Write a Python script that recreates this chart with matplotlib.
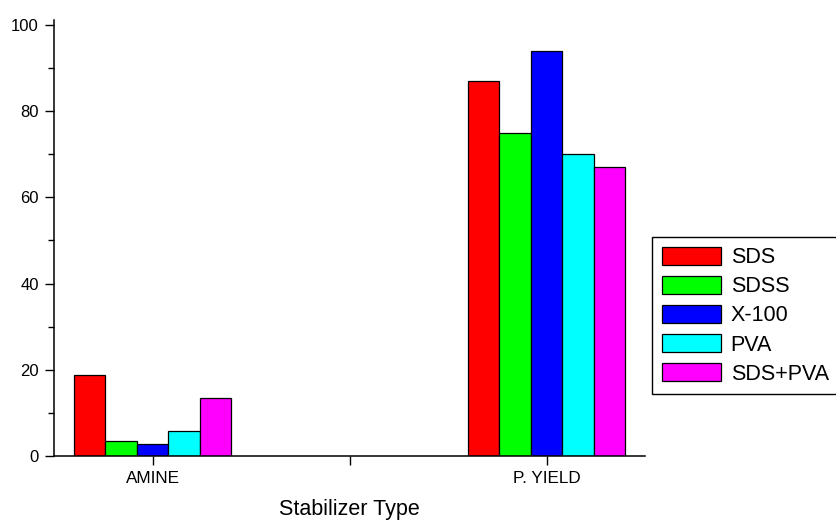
import matplotlib
matplotlib.use("Agg")
import matplotlib.pyplot as plt
import numpy as np

plt.rcParams["font.family"] = ["Liberation Sans", "DejaVu Sans"]

CATEGORIES = ["AMINE", "P. YIELD"]
SERIES = ["SDS", "SDSS", "X-100", "PVA", "SDS+PVA"]
COLORS = ["#ff0000", "#00ff00", "#0000ff", "#00ffff", "#ff00ff"]
VALUES = {
    "SDS": [18.7, 87.0],
    "SDSS": [3.5, 75.0],
    "X-100": [2.7, 94.0],
    "PVA": [5.7, 70.0],
    "SDS+PVA": [13.5, 67.0],
}

W, H = 836, 523
fig = plt.figure(figsize=(W / 100, H / 100), dpi=100)
ax = fig.add_axes([54 / W, 1 - 456 / H, (645 - 54) / W, 436 / H])

x = np.arange(1, len(CATEGORIES) + 1)
bar_w = 0.08
offsets = (np.arange(len(SERIES)) - (len(SERIES) - 1) / 2) * bar_w
for i, name in enumerate(SERIES):
    ax.bar(x + offsets[i], VALUES[name], width=bar_w, color=COLORS[i],
           edgecolor="black", linewidth=0.9, label=name)

ax.set_xlim(0.75, 2.25)
ax.set_ylim(0, 101.16)
ax.set_xticks(x)
ax.set_xticklabels(CATEGORIES, fontsize=12.3)
ax.set_xticks([1.5], minor=True)
ax.set_yticks(np.arange(0, 101, 20))
ax.set_yticks(np.arange(10, 100, 20), minor=True)
ax.tick_params(axis="y", labelsize=12, length=6.5, width=1, pad=4.5)
ax.tick_params(axis="y", which="minor", length=4, width=1)
ax.tick_params(axis="x", which="both", length=6.5, width=1, pad=4)
for s in ("top", "right"):
    ax.spines[s].set_visible(False)
for s in ("left", "bottom"):
    ax.spines[s].set_linewidth(1.1)

ax.set_xlabel("Stabilizer Type", fontsize=15.5, va="baseline")
ax.xaxis.set_label_coords(0.5, -59.5 / 436)

leg = fig.legend(loc="upper left", bbox_to_anchor=(652 / W, 1 - 237 / H),
                 borderaxespad=0, fontsize=15.5, handlelength=2.75,
                 handleheight=0.93, labelspacing=0.35, handletextpad=0.45,
                 borderpad=0.45, fancybox=False, framealpha=1)
leg.get_frame().set_edgecolor("black")
leg.get_frame().set_linewidth(1.0)

fig.savefig("out.png", dpi=100)
